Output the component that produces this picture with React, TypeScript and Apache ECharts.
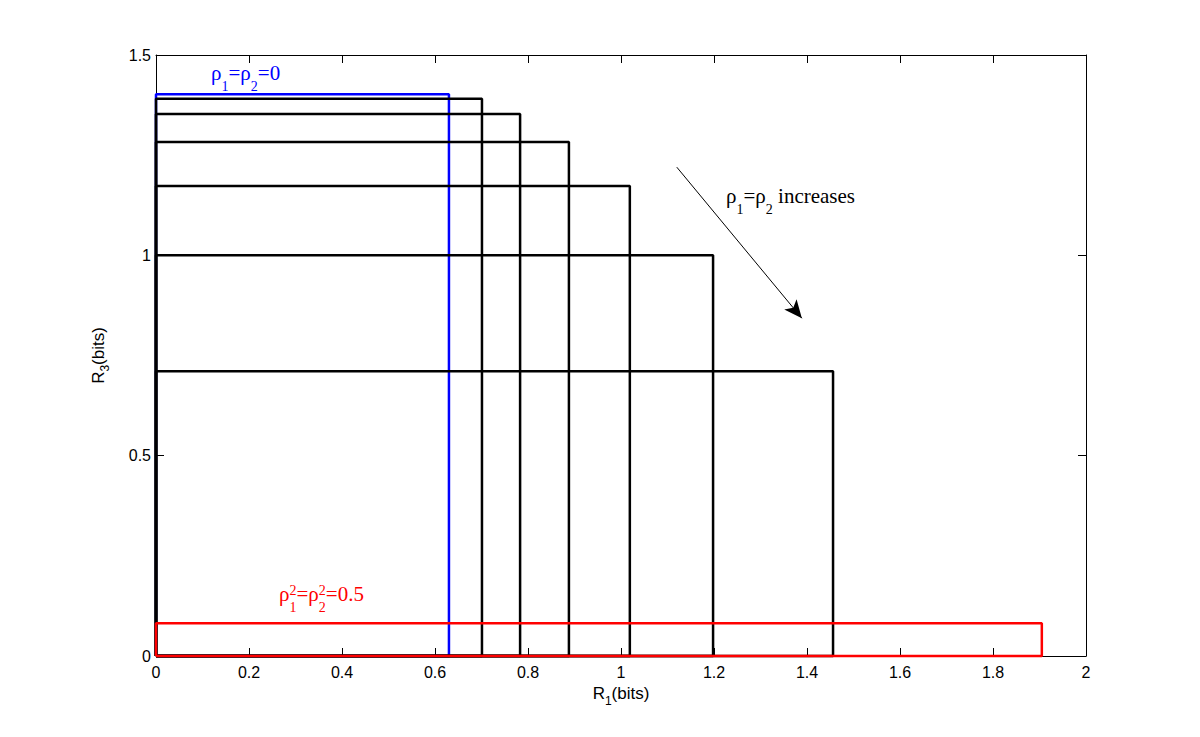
import React, { useEffect, useRef } from "react";
import * as echarts from "echarts";

// Rate region corners (R1, R3) for increasing rho1 = rho2
const blackR1 = [0.701, 0.783, 0.888, 1.019, 1.198, 1.456];
const blackR3 = [1.391, 1.353, 1.283, 1.173, 1.0, 0.711];
const blueR1 = 0.630;
const blueR3 = 1.402;
const redR1 = 1.905;
const redR3 = 0.082;
const xTicks = [0, 0.2, 0.4, 0.6, 0.8, 1, 1.2, 1.4, 1.6, 1.8, 2];
const yTicks = [0, 0.5, 1, 1.5];
const arrowStart = [1.12, 1.22];
const arrowEnd = [1.389, 0.843];

const rect = (x: number, y: number) => [
  [0, 0],
  [x, 0],
  [x, y],
  [0, y],
  [0, 0],
];

const SERIF = "'Liberation Serif', 'DejaVu Serif', serif";
const SANS = "'Liberation Sans', Arial, Helvetica, sans-serif";
const MAIN = 21;
const SUB = 14;

const mainTok = (fill: string) => ({
  font: `${MAIN}px ${SERIF}`,
  fontFamily: SERIF,
  fontSize: MAIN,
  lineHeight: 22,
  padding: [0, 0, 10, 0],
  fill,
});
const subTok = (fill: string) => ({
  font: `${SUB}px ${SERIF}`,
  fontFamily: SERIF,
  fontSize: SUB,
  lineHeight: 14,
  padding: [17, 0, 1, 0],
  fill,
});
const supTok = (fill: string) => ({
  font: `${SUB}px ${SERIF}`,
  fontFamily: SERIF,
  fontSize: SUB,
  lineHeight: 14,
  padding: [0, 0, 18, 0],
  fill,
});

const nameRich = {
  m: { fontFamily: SANS, fontSize: 17, color: "#000", lineHeight: 18, padding: [0, 0, 6, 0] },
  s: { fontFamily: SANS, fontSize: 12, color: "#000", lineHeight: 12, padding: [10, 0, 2, 0] },
};

export default function App() {
  const ref = useRef<HTMLDivElement>(null);
  useEffect(() => {
    if (!ref.current) return;
    const chart = echarts.init(ref.current, null, { renderer: "svg" });
    const LW = 2.5;
    const series: any[] = [];
    series.push({
      type: "line",
      data: rect(blueR1, blueR3),
      symbol: "none",
      clip: false,
      lineStyle: { color: "#0000ff", width: LW },
      z: 3,
    });
    blackR1.forEach((x, i) => {
      series.push({
        type: "line",
        data: rect(x, blackR3[i]),
        symbol: "none",
        clip: false,
        lineStyle: { color: "#000", width: LW },
        z: 4,
      });
    });
    series.push({
      type: "line",
      data: rect(redR1, redR3),
      symbol: "none",
      clip: false,
      lineStyle: { color: "#ff0000", width: LW },
      z: 5,
      markLine: {
        silent: true,
        animation: false,
        label: { show: false },
        lineStyle: { color: "#000", width: 1, type: "solid" },
        data: [
          [
            { coord: arrowStart, symbol: "none" },
            { coord: arrowEnd, symbol: "arrow", symbolSize: [12, 18] },
          ],
        ],
      },
    });

    const axisCommon = {
      type: "value",
      axisLine: { show: true, onZero: false, lineStyle: { color: "#000", width: 1 } },
      axisTick: { show: true, inside: true, length: 8, lineStyle: { color: "#000" } },
      splitLine: { show: false },
    };

    const option: any = {
      animation: false,
      backgroundColor: "#fff",
      grid: { left: 156, right: 114, top: 55, bottom: 81, containLabel: false },
      xAxis: [
        {
          ...axisCommon,
          position: "bottom",
          min: xTicks[0],
          max: xTicks[xTicks.length - 1],
          interval: 0.2,
          axisLabel: {
            margin: 8,
            fontFamily: SANS,
            fontSize: 16,
            color: "#000",
            formatter: (v: number) => String(Math.round(v * 10) / 10),
          },
          name: "{m|R}{s|1}{m|(bits)}",
          nameLocation: "middle",
          nameGap: 30,
          nameTextStyle: { rich: nameRich },
        },
        {
          ...axisCommon,
          position: "top",
          min: xTicks[0],
          max: xTicks[xTicks.length - 1],
          interval: 0.2,
          axisLabel: { show: false },
        },
      ],
      yAxis: [
        {
          ...axisCommon,
          position: "left",
          min: yTicks[0],
          max: yTicks[yTicks.length - 1],
          interval: 0.5,
          axisLabel: {
            margin: 5,
            fontFamily: SANS,
            fontSize: 16,
            color: "#000",
            formatter: (v: number) => String(v),
          },
          name: "{m|R}{s|3}{m|(bits)}",
          nameLocation: "middle",
          nameGap: 46,
          nameRotate: 90,
          nameTextStyle: { rich: nameRich },
        },
        {
          ...axisCommon,
          position: "right",
          min: yTicks[0],
          max: yTicks[yTicks.length - 1],
          interval: 0.5,
          axisLabel: { show: false },
        },
      ],
      series,
      graphic: [
        {
          type: "text",
          x: 211,
          y: 67,
          z: 10,
          style: {
            font: `${MAIN}px ${SERIF}`,
            fill: "#0000ff",
            text: "{m|ρ}{s|1}{m|=ρ}{s|2}{m|=0}",
            rich: { m: mainTok("#0000ff"), s: subTok("#0000ff") },
          },
        },
        {
          type: "text",
          x: 726,
          y: 190,
          z: 10,
          style: {
            font: `${MAIN}px ${SERIF}`,
            fill: "#000",
            text: "{m|ρ}{s|1}{m|=ρ}{s|2}{m| increases}",
            rich: { m: mainTok("#000"), s: subTok("#000") },
          },
        },
        {
          type: "text",
          x: 279,
          y: 588,
          z: 10,
          style: {
            font: `${MAIN}px ${SERIF}`,
            fill: "#ff0000",
            text: "{m|ρ}{s|1}{m|=ρ}{s|2}{m|=0.5}",
            rich: { m: mainTok("#ff0000"), s: subTok("#ff0000") },
          },
        },
        {
          type: "text",
          x: 279,
          y: 588,
          z: 10,
          style: {
            font: `${MAIN}px ${SERIF}`,
            fill: "rgba(0,0,0,0)",
            text: "{m|ρ}{s|2}{m|=ρ}{s|2}",
            rich: { m: mainTok("rgba(0,0,0,0)"), s: supTok("#ff0000") },
          },
        },
      ],
    };
    chart.setOption(option);
    return () => chart.dispose();
  }, []);
  return (
    <div
      ref={ref}
      style={{ position: "fixed", left: 0, top: 0, width: 1200, height: 737, background: "#fff" }}
    />
  );
}
